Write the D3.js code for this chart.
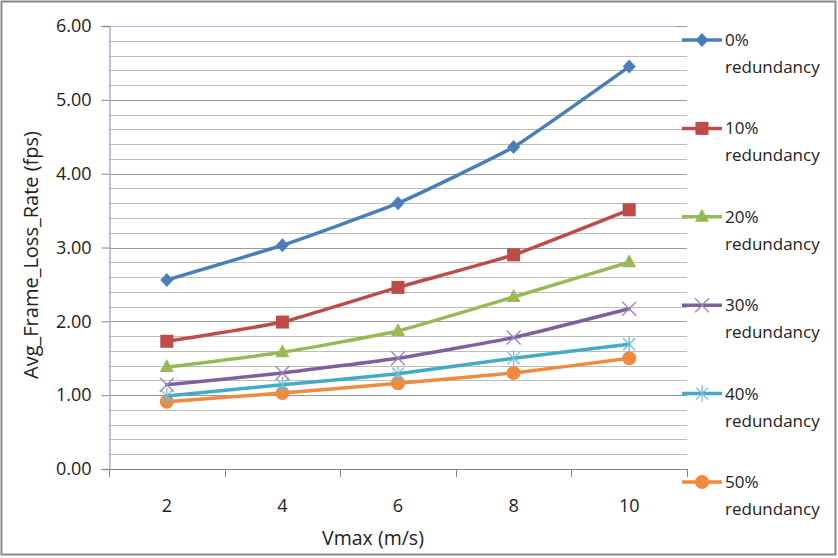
<!DOCTYPE html>
<html>
<head>
<meta charset="utf-8">
<script src="https://cdn.jsdelivr.net/npm/d3@7"></script>
<style>
  html, body { margin: 0; padding: 0; background: #fff; }
  svg { display: block; font-family: "Open Sans", "DejaVu Sans", sans-serif; }
</style>
</head>
<body>
<svg id="chart" width="838" height="558"></svg>
<script>
// Vmax categories (m/s)
const categories = ["2", "4", "6", "8", "10"];

// Average frame loss rate per redundancy level
const red0  = [2.56, 3.03, 3.60, 4.36, 5.45];
const red10 = [1.73, 1.99, 2.46, 2.90, 3.51];
const red20 = [1.38, 1.58, 1.87, 2.33, 2.80];
const red30 = [1.14, 1.30, 1.50, 1.78, 2.17];
const red40 = [0.99, 1.14, 1.29, 1.50, 1.69];
const red50 = [0.91, 1.03, 1.16, 1.30, 1.50];

const seriesNames = ["0%", "10%", "20%", "30%", "40%", "50%"];
const yTicks = [0, 1, 2, 3, 4, 5, 6];

const series = [
  { name: seriesNames[0], values: red0,  color: "#4a7ebb", markColor: "#4a7ebb", marker: "diamond" },
  { name: seriesNames[1], values: red10, color: "#be4b48", markColor: "#be4b48", marker: "square" },
  { name: seriesNames[2], values: red20, color: "#98b954", markColor: "#98b954", marker: "triangle" },
  { name: seriesNames[3], values: red30, color: "#7d60a0", markColor: "#9c86bb", marker: "x" },
  { name: seriesNames[4], values: red40, color: "#46aac5", markColor: "#6cc0d8", marker: "star" },
  { name: seriesNames[5], values: red50, color: "#f08a3c", markColor: "#f08a3c", marker: "circle" }
];

const svg = d3.select("#chart");

// outer frame
svg.append("rect")
  .attr("x", 1.5).attr("y", 1.5).attr("width", 834).attr("height", 553)
  .attr("fill", "#fff").attr("stroke", "#8a8a8a").attr("stroke-width", 2);

const plot = { left: 109, right: 687, top: 26, bottom: 469 };

const x = d3.scaleBand().domain(categories).range([plot.left, plot.right]).padding(0);
const y = d3.scaleLinear().domain([0, 6]).range([plot.bottom, plot.top]);

// horizontal gridlines every 0.2
const minor = d3.range(0, 31).map(i => i / 5);
svg.append("g").selectAll("line").data(minor).join("line")
  .attr("x1", plot.left).attr("x2", plot.right)
  .attr("y1", d => Math.round(y(d)) + 0.5).attr("y2", d => Math.round(y(d)) + 0.5)
  .attr("stroke", d => (Math.abs(d - Math.round(d)) < 1e-6) ? "#999999" : "#bdbdbd")
  .attr("stroke-width", 1.2);

// top plot border highlight
svg.append("line")
  .attr("x1", plot.left).attr("x2", 677)
  .attr("y1", Math.round(y(6)) + 0.5).attr("y2", Math.round(y(6)) + 0.5)
  .attr("stroke", "#a9c0e4").attr("stroke-width", 1.2);

// y axis
const yAxis = d3.axisLeft(y).tickValues(yTicks).tickFormat(d3.format(".2f")).tickSize(8).tickPadding(10);
const gy = svg.append("g").attr("transform", `translate(${plot.left + 0.5},0)`).call(yAxis);
gy.select(".domain").attr("stroke", "#9fb3d6").attr("stroke-width", 1.5);
gy.selectAll(".tick line").attr("stroke", "#8a8a8a");
gy.selectAll(".tick text").attr("font-size", 18).attr("fill", "#222").attr("font-family", "Open Sans");

// x axis with ticks between categories
const xAxisG = svg.append("g");
xAxisG.append("line")
  .attr("x1", plot.left).attr("x2", plot.right)
  .attr("y1", plot.bottom + 0.5).attr("y2", plot.bottom + 0.5)
  .attr("stroke", "#8a8a8a");
const bounds = categories.map(c => x(c)).concat([x(categories[categories.length - 1]) + x.bandwidth()]);
xAxisG.selectAll("line.tk").data(bounds).join("line").attr("class", "tk")
  .attr("x1", d => Math.round(d) + 0.5).attr("x2", d => Math.round(d) + 0.5)
  .attr("y1", plot.bottom).attr("y2", plot.bottom + 8)
  .attr("stroke", "#8a8a8a");
xAxisG.selectAll("text").data(categories).join("text")
  .attr("x", d => x(d) + x.bandwidth() / 2).attr("y", 512)
  .attr("text-anchor", "middle").attr("font-size", 18).attr("fill", "#222")
  .text(d => d);

// axis titles
svg.append("text")
  .attr("x", 373).attr("y", 545)
  .attr("text-anchor", "middle").attr("font-size", 19.5).attr("fill", "#222")
  .text("Vmax (m/s)");
svg.append("text")
  .attr("transform", "translate(38,255) rotate(-90)")
  .attr("text-anchor", "middle").attr("font-size", 20).attr("fill", "#222")
  .text("Avg_Frame_Loss_Rate (fps)");

// marker drawing
function drawMarker(g, type, cx, cy, color) {
  if (type === "diamond") {
    g.append("path").attr("d", `M${cx},${cy - 7}L${cx + 6.5},${cy}L${cx},${cy + 7}L${cx - 6.5},${cy}Z`).attr("fill", color);
  } else if (type === "square") {
    g.append("rect").attr("x", cx - 6.5).attr("y", cy - 6.5).attr("width", 13).attr("height", 13).attr("fill", color);
  } else if (type === "triangle") {
    g.append("path").attr("d", `M${cx},${cy - 8}L${cx + 7},${cy + 5}L${cx - 7},${cy + 5}Z`).attr("fill", color);
  } else if (type === "x") {
    g.append("path").attr("d", `M${cx - 7},${cy - 7}L${cx + 7},${cy + 7}M${cx - 7},${cy + 7}L${cx + 7},${cy - 7}`)
      .attr("stroke", color).attr("stroke-width", 1.3).attr("fill", "none");
  } else if (type === "star") {
    g.append("path").attr("d", `M${cx - 6},${cy - 6}L${cx + 6},${cy + 6}M${cx - 6},${cy + 6}L${cx + 6},${cy - 6}M${cx},${cy - 8}L${cx},${cy + 8}`)
      .attr("stroke", color).attr("stroke-width", 1.3).attr("fill", "none");
  } else if (type === "circle") {
    g.append("circle").attr("cx", cx).attr("cy", cy).attr("r", 7).attr("fill", color);
  }
}

const line = d3.line()
  .x((d, i) => x(categories[i]) + x.bandwidth() / 2)
  .y(d => y(d))
  .curve(d3.curveCardinal.tension(0.6));

// series lines, drawn from last to first so the top series sits above
[...series].reverse().forEach(s => {
  const g = svg.append("g");
  g.append("path").datum(s.values).attr("d", line)
    .attr("fill", "none").attr("stroke", s.color).attr("stroke-width", 3.5)
    .attr("stroke-linejoin", "round").attr("stroke-linecap", "round");
  s.values.forEach((v, i) => drawMarker(g, s.marker, x(categories[i]) + x.bandwidth() / 2, y(v), s.markColor));
});

// legend
const legendTop = 40, legendStep = 88.4;
series.forEach((s, i) => {
  const g = svg.append("g");
  const ly = legendTop + i * legendStep;
  g.append("line").attr("x1", 682).attr("x2", 722).attr("y1", ly).attr("y2", ly)
    .attr("stroke", s.color).attr("stroke-width", 3.5);
  drawMarker(g, s.marker, 702, ly, s.markColor);
  g.append("text").attr("x", 725).attr("y", ly + 6).attr("font-size", 17).attr("fill", "#222").text(s.name);
  g.append("text").attr("x", 725).attr("y", ly + 33).attr("font-size", 17).attr("fill", "#222").text("redundancy");
});
</script>
</body>
</html>
